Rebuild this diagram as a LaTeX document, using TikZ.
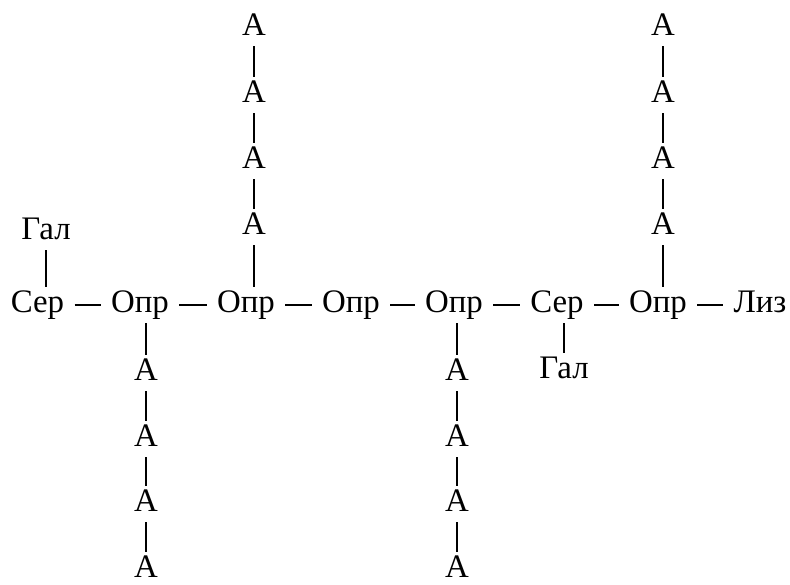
\documentclass[tikz,border=0pt]{standalone}
\usepackage{fontspec}
\setmainfont{Liberation Serif}
\tikzset{
  res/.style={inner xsep=0.2cm, inner ysep=0.06cm, text height=13.1pt, text depth=4.1pt, font=\fontsize{18.7}{22}\selectfont},
  bnd/.style={line width=1.5pt},
  br/.style={line width=1.1pt},
}
\begin{document}
\begin{tikzpicture}
  \useasboundingbox (0,0) rectangle (15.8,11.68);
  % backbone
  \node[res] (s1) at (0.75,5.58) {Сер};
  \node[res] (o1) at (2.80,5.58) {Опр};
  \node[res] (o2) at (4.92,5.58) {Опр};
  \node[res] (o3) at (7.02,5.58) {Опр};
  \node[res] (o4) at (9.08,5.58) {Опр};
  \node[res] (s2) at (11.14,5.58) {Сер};
  \node[res] (o5) at (13.16,5.58) {Опр};
  \node[res] (l) at (15.20,5.58) {Лиз};
  \draw[bnd] (s1) -- (o1); \draw[bnd] (o1) -- (o2); \draw[bnd] (o2) -- (o3); \draw[bnd] (o3) -- (o4);
  \draw[bnd] (o4) -- (s2); \draw[bnd] (s2) -- (o5); \draw[bnd] (o5) -- (l);
  % galactose
  \node[res] (g1) at (0.92,7.04) {Гал};
  \draw[br] (g1.south) -- (g1.south |- s1.north);
  \node[res] (g2) at (11.28,4.26) {Гал};
  \draw[br] (g2.north) -- (g2.north |- s2.south);
  % arabinose, up from o2
  \node[res] (u1) at (5.08,7.14) {А};
  \node[res] (u2) at (5.08,8.46) {А};
  \node[res] (u3) at (5.08,9.78) {А};
  \node[res] (u4) at (5.08,11.12) {А};
  \draw[br] (u1.south) -- (u1.south |- o2.north);
  \draw[br] (u1) -- (u2); \draw[br] (u2) -- (u3); \draw[br] (u3) -- (u4);
  % arabinose, up from o5
  \node[res] (v1) at (13.26,7.14) {А};
  \node[res] (v2) at (13.26,8.46) {А};
  \node[res] (v3) at (13.26,9.78) {А};
  \node[res] (v4) at (13.26,11.12) {А};
  \draw[br] (v1.south) -- (v1.south |- o5.north);
  \draw[br] (v1) -- (v2); \draw[br] (v2) -- (v3); \draw[br] (v3) -- (v4);
  % arabinose, down from o1
  \node[res] (d1) at (2.92,4.22) {А};
  \node[res] (d2) at (2.92,2.90) {А};
  \node[res] (d3) at (2.92,1.60) {А};
  \node[res] (d4) at (2.92,0.28) {А};
  \draw[br] (d1.north) -- (d1.north |- o1.south);
  \draw[br] (d1) -- (d2); \draw[br] (d2) -- (d3); \draw[br] (d3) -- (d4);
  % arabinose, down from o4
  \node[res] (e1) at (9.14,4.22) {А};
  \node[res] (e2) at (9.14,2.90) {А};
  \node[res] (e3) at (9.14,1.60) {А};
  \node[res] (e4) at (9.14,0.28) {А};
  \draw[br] (e1.north) -- (e1.north |- o4.south);
  \draw[br] (e1) -- (e2); \draw[br] (e2) -- (e3); \draw[br] (e3) -- (e4);
\end{tikzpicture}
\end{document}
